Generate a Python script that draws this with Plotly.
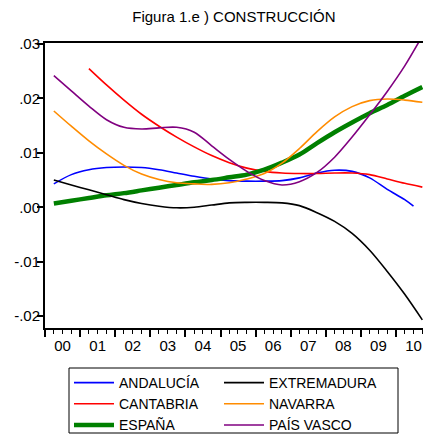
import datetime
import plotly.graph_objects as go

# Half-year grid (decimal years)
YEARS = [2000.25, 2000.75, 2001.25, 2001.75, 2002.25, 2002.75, 2003.25, 2003.75, 2004.25, 2004.75,
         2005.25, 2005.75, 2006.25, 2006.75, 2007.25, 2007.75, 2008.25, 2008.75, 2009.25, 2009.75,
         2010.25, 2010.75]

ANDALUCIA_YEARS = YEARS[:-1] + [2010.5]
ANDALUCIA = [0.0043, 0.0060, 0.0069, 0.0073, 0.0074, 0.0073, 0.0069, 0.0063, 0.0057, 0.0052,
             0.0049, 0.0048, 0.0048, 0.0049, 0.0054, 0.0063, 0.0068, 0.0066, 0.0054, 0.0033,
             0.0014, 0.0002]
EXTREMADURA = [0.0050, 0.0041, 0.0032, 0.0023, 0.0014, 0.0007, 0.0002, -0.0001, 0.0000, 0.0004,
               0.0008, 0.0009, 0.0009, 0.0008, 0.0003, -0.0010, -0.0026, -0.0048, -0.0079, -0.0118,
               -0.0160, -0.0207]
CANTABRIA_YEARS = YEARS[2:]
CANTABRIA = [0.0255, 0.0225, 0.0197, 0.0171, 0.0149, 0.0129, 0.0111, 0.0095,
             0.0082, 0.0072, 0.0066, 0.0063, 0.0062, 0.0062, 0.0063, 0.0063, 0.0060, 0.0052,
             0.0044, 0.0037]
NAVARRA = [0.0177, 0.0149, 0.0122, 0.0098, 0.0077, 0.0061, 0.0051, 0.0045, 0.0043, 0.0042,
           0.0045, 0.0052, 0.0062, 0.0081, 0.0108, 0.0139, 0.0166, 0.0185, 0.0196, 0.0199,
           0.0197, 0.0193]
ESPANA = [0.0007, 0.0012, 0.0017, 0.0022, 0.0026, 0.0031, 0.0036, 0.0041, 0.0046, 0.0050,
          0.0055, 0.0060, 0.0069, 0.0082, 0.0097, 0.0118, 0.0138, 0.0156, 0.0173, 0.0188,
          0.0205, 0.0221]
PAIS_VASCO = [0.0242, 0.0214, 0.0186, 0.0161, 0.0147, 0.0144, 0.0146, 0.0147, 0.0138, 0.0113,
              0.0088, 0.0066, 0.0049, 0.0041, 0.0047, 0.0064, 0.0092, 0.0129, 0.0170, 0.0213,
              0.0260, 0.0315]

Y_TICKS = [0.03, 0.02, 0.01, 0.0, -0.01, -0.02]
Y_TICK_TEXT = [".03", ".02", ".01", ".00", "-.01", "-.02"]


def to_date(y):
    year = int(y)
    frac = y - year
    start = datetime.date(year, 1, 1)
    days = (datetime.date(year + 1, 1, 1) - start).days
    return (start + datetime.timedelta(days=round(frac * days))).isoformat()


FONT = "Arial, Liberation Sans, sans-serif"
W, H = 423, 436
ML, MT, MB = 45, 43, 108
PLOT_W, PLOT_H = W - ML, H - MT - MB


def px_x(p):
    return (p - ML) / PLOT_W


def px_y(p):
    return (H - MB - p) / PLOT_H


fig = go.Figure()

series = [
    ("ANDALUCÍA", ANDALUCIA_YEARS, ANDALUCIA, "#0000ff", 1.6, "legend"),
    ("CANTABRIA", CANTABRIA_YEARS, CANTABRIA, "#ff0000", 1.6, "legend"),
    ("ESPAÑA", YEARS, ESPANA, "#008000", 4.5, "legend"),
    ("EXTREMADURA", YEARS, EXTREMADURA, "#000000", 1.6, "legend2"),
    ("NAVARRA", YEARS, NAVARRA, "#ff8c00", 1.6, "legend2"),
    ("PAÍS VASCO", YEARS, PAIS_VASCO, "#800080", 1.6, "legend2"),
]

for name, ts, ys, color, w, lg in series:
    fig.add_trace(go.Scatter(
        x=[to_date(t) for t in ts], y=ys, name=name, mode="lines", legend=lg,
        line=dict(color=color, width=w, shape="spline", smoothing=0.9),
    ))

legend_common = dict(
    orientation="v", xref="container", xanchor="left",
    y=1 - 367 / H, yref="container", yanchor="top",
    borderwidth=0, bgcolor="rgba(0,0,0,0)",
    font=dict(size=14, family=FONT), tracegroupgap=0, itemwidth=40,
)

fig.update_layout(
    width=W, height=H,
    margin=dict(l=ML, r=0, t=MT, b=MB, autoexpand=False),
    paper_bgcolor="white", plot_bgcolor="white",
    font=dict(family=FONT, size=15, color="black"),
    title=dict(text="Figura 1.e ) CONSTRUCCIÓN", x=0.553, xanchor="center",
               y=1 - 17 / H, yanchor="middle", font=dict(size=15, family=FONT)),
    showlegend=True,
    legend=dict(x=69 / W, **legend_common),
    legend2=dict(x=219 / W, **legend_common),
    shapes=[dict(type="rect", xref="paper", yref="paper",
                 x0=px_x(69), x1=px_x(398), y0=px_y(368), y1=px_y(433),
                 line=dict(color="black", width=1), fillcolor="rgba(0,0,0,0)")],
)

fig.update_xaxes(
    type="date", range=[to_date(2000.0), to_date(2010.77)],
    tick0="2000-01-01", dtick="M12", tickformat="%y", ticklabelmode="period",
    ticks="outside", ticklen=7, tickwidth=1.5, tickcolor="black",
    minor=dict(dtick="M3", ticks="outside", ticklen=4, tickwidth=1, tickcolor="black"),
    showline=True, linecolor="black", linewidth=2, mirror=True,
    showgrid=False, zeroline=False, tickfont=dict(size=15), ticklabelstandoff=-4,
)
fig.update_yaxes(
    range=[-0.0222, 0.0302], tickvals=Y_TICKS, ticktext=Y_TICK_TEXT,
    ticks="outside", ticklen=6, tickwidth=1.5, tickcolor="black",
    showline=True, linecolor="black", linewidth=2, mirror=False,
    showgrid=False, zeroline=False, tickfont=dict(size=15), ticklabelstandoff=-6,
)

fig.write_html("out.html", config={"displayModeBar": False},
               post_script="document.body.style.margin='0';")
